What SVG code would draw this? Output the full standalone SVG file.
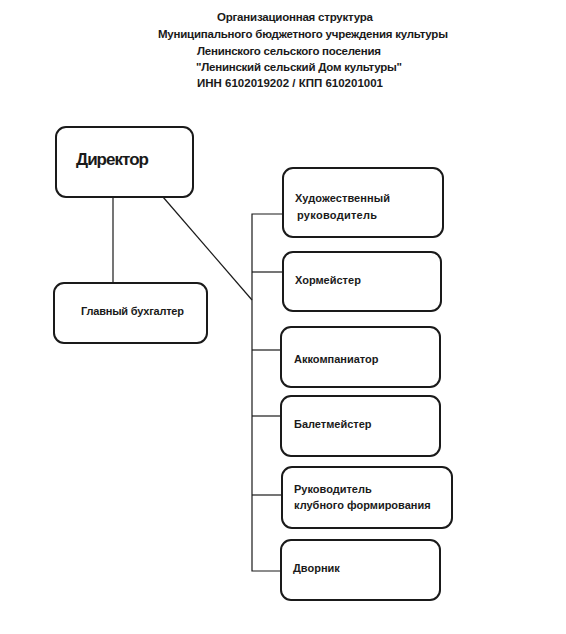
<svg xmlns="http://www.w3.org/2000/svg" width="566" height="634" viewBox="0 0 566 634">
<style>
.t{font-family:"Liberation Sans",Arial,sans-serif;font-weight:bold;fill:#1a1a1a}
.h{font-size:11.5px}
.n{font-size:11px}
.box{fill:#fff;stroke:#1a1a1a;stroke-width:2}
.ln{stroke:#1a1a1a;stroke-width:1.2;fill:none}
</style>
<rect width="566" height="634" fill="#fff"/>
<g id="title" class="t h">
<text x="217" y="21" textLength="156">Организационная структура</text>
<text x="158" y="38" textLength="290">Муниципального бюджетного учреждения культуры</text>
<text x="197" y="55" textLength="184">Ленинского сельского поселения</text>
<text x="196" y="71" textLength="206">"Ленинский сельский Дом культуры"</text>
<text x="197" y="87" textLength="186">ИНН 6102019202 / КПП 610201001</text>
</g>
<g id="connectors" class="ln">
<line x1="113" y1="197" x2="113" y2="283"/>
<line x1="163" y1="197" x2="252" y2="300"/>
<polyline points="283,214 252,214 252,571 281,571"/>
<line x1="252" y1="272" x2="283" y2="272"/>
<line x1="252" y1="350" x2="281" y2="350"/>
<line x1="252" y1="416" x2="281" y2="416"/>
<line x1="252" y1="495" x2="282" y2="495"/>
</g>
<g id="director">
<rect class="box" x="56" y="127" width="137" height="70" rx="10"/>
<text class="t" x="76" y="165" font-size="17" textLength="73">Директор</text>
</g>
<g id="accountant">
<rect class="box" x="54" y="283" width="153" height="60" rx="10"/>
<text class="t n" x="81" y="315" textLength="103">Главный бухгалтер</text>
</g>
<g id="art">
<rect class="box" x="283" y="168" width="160" height="69" rx="10"/>
<text class="t n" x="295" y="202" textLength="95">Художественный</text>
<text class="t n" x="297" y="219" textLength="80">руководитель</text>
</g>
<g id="choir">
<rect class="box" x="283" y="252" width="158" height="59" rx="10"/>
<text class="t n" x="295" y="284">Хормейстер</text>
</g>
<g id="accomp">
<rect class="box" x="281" y="327" width="159" height="60" rx="10"/>
<text class="t n" x="294" y="363">Аккомпаниатор</text>
</g>
<g id="ballet">
<rect class="box" x="281" y="396" width="159" height="60" rx="10"/>
<text class="t n" x="294" y="428">Балетмейстер</text>
</g>
<g id="club">
<rect class="box" x="282" y="467" width="170" height="61" rx="10"/>
<text class="t n" x="294" y="493">Руководитель</text>
<text class="t n" x="294" y="509">клубного формирования</text>
</g>
<g id="janitor">
<rect class="box" x="281" y="540" width="159" height="60" rx="10"/>
<text class="t n" x="293" y="572">Дворник</text>
</g>
</svg>
